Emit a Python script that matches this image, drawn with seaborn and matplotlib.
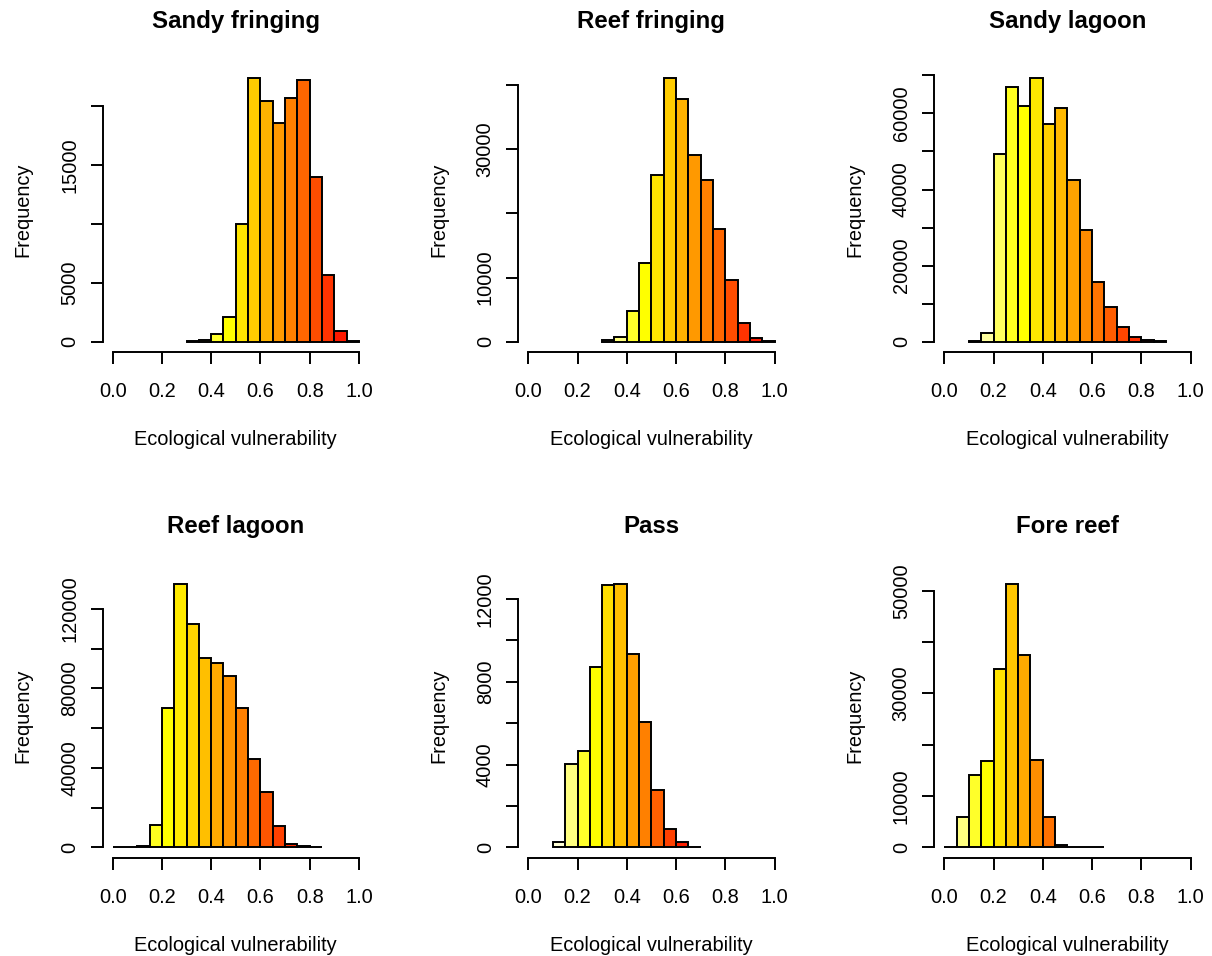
import colorsys

import numpy as np
import pandas as pd
import matplotlib
matplotlib.use("Agg")
import matplotlib.pyplot as plt
import seaborn as sns


# panel titles, bin ranges (left edge of first bin, right edge of last) and counts
titles = ["Sandy fringing", "Reef fringing", "Sandy lagoon",
          "Reef lagoon", "Pass", "Fore reef"]

sandy_fringing_range = (0.30, 1.00)
sandy_fringing = [50, 100, 650, 2090, 9970, 22320, 20420, 18560, 20680, 22180,
                  13980, 5650, 880, 60]

reef_fringing_range = (0.30, 1.00)
reef_fringing = [200, 700, 4780, 12210, 25980, 41040, 37770, 29140, 25200, 17560,
                 9610, 2960, 570, 150]

sandy_lagoon_range = (0.10, 0.90)
sandy_lagoon = [300, 2370, 49230, 66930, 61930, 69200, 57120, 61320, 42490, 29350,
                15590, 9200, 3850, 1230, 440, 150]

reef_lagoon_range = (0.00, 0.85)
reef_lagoon = [340, 300, 670, 11090, 70220, 132550, 112560, 95590, 92740, 86520,
               70220, 44690, 27720, 10750, 1680, 500, 150]

pass_range = (0.10, 0.70)
pass_counts = [260, 4020, 4650, 8730, 12650, 12710, 9320, 6050, 2760, 890, 260, 20]

fore_reef_range = (0.00, 0.65)
fore_reef = [150, 5980, 14170, 16770, 34780, 51290, 37510, 16970, 5920, 520, 100, 80, 60]

ranges = [sandy_fringing_range, reef_fringing_range, sandy_lagoon_range,
          reef_lagoon_range, pass_range, fore_reef_range]
counts_all = [sandy_fringing, reef_fringing, sandy_lagoon,
              reef_lagoon, pass_counts, fore_reef]

# y ticks: step, last tick, and which ticks carry a label
y_steps = [5000, 10000, 10000, 20000, 2000, 10000]
y_tops = [20000, 40000, 70000, 120000, 12000, 50000]
y_labelled = [[0, 5000, 15000], [0, 10000, 30000], [0, 20000, 40000, 60000],
              [0, 40000, 80000, 120000], [0, 4000, 8000, 12000], [0, 10000, 30000, 50000]]

x_ticks = [0.0, 0.2, 0.4, 0.6, 0.8, 1.0]
x_tick_labels = ["0.0", "0.2", "0.4", "0.6", "0.8", "1.0"]


def heat_colors(n):
    # same as R's heat.colors(n)
    j = n // 4
    i = n - j
    cols = [colorsys.hsv_to_rgb(h, 1, 1) for h in np.linspace(0, 1 / 6, i)]
    if j > 0:
        cols += [colorsys.hsv_to_rgb(1 / 6, s, 1)
                 for s in np.linspace(1 - 1 / (2 * j), 1 / (2 * j), j)]
    return cols


sns.set_style("white")
plt.rcParams["font.family"] = ["Liberation Sans", "DejaVu Sans"]
plt.rcParams["text.color"] = "black"
plt.rcParams["axes.labelcolor"] = "black"

W, H = 1212, 956
fig = plt.figure(figsize=(W / 100, H / 100), dpi=100)

col_lefts = [102.8, 518.4, 934.4]
row_tops = [67.9, 573.6]
ax_w, ax_h = 266.0, 284.3
lw = 1.4

for k, (title, rng, counts) in enumerate(zip(titles, ranges, counts_all)):
    r, c = divmod(k, 3)
    ax = fig.add_axes([col_lefts[c] / W, (H - row_tops[r] - ax_h) / H, ax_w / W, ax_h / H])

    n = len(counts)
    edges = [round(v, 3) for v in np.linspace(rng[0], rng[1], n + 1)]
    centers = [(a + b) / 2 for a, b in zip(edges[:-1], edges[1:])]
    df = pd.DataFrame({"value": centers, "count": counts})
    sns.histplot(data=df, x="value", weights="count", bins=edges, ax=ax,
                 stat="count", edgecolor="black", linewidth=lw, alpha=1)
    for patch, col in zip(ax.patches, heat_colors(n)[::-1]):
        patch.set_facecolor(col)

    ymax = max(counts)
    ax.set_xlim(-0.04, 1.04)
    ax.set_ylim(-0.04 * ymax, 1.04 * ymax)

    for side in ["top", "right"]:
        ax.spines[side].set_visible(False)
    for side in ["left", "bottom"]:
        ax.spines[side].set_linewidth(lw)
        ax.spines[side].set_color("black")
    ax.spines["bottom"].set_bounds(0, 1)
    ax.spines["left"].set_bounds(0, y_tops[k])

    ax.set_xticks(x_ticks)
    ax.set_xticklabels(x_tick_labels)
    yt = np.arange(0, y_tops[k] + 1, y_steps[k])
    ax.set_yticks(yt)
    ax.set_yticklabels([str(v) if v in y_labelled[k] else "" for v in yt],
                       rotation=90, va="center")

    ax.tick_params(axis="both", direction="out", length=8.5, width=lw,
                   color="black", labelsize=14.4, labelcolor="black")
    ax.tick_params(axis="x", pad=13, bottom=True)
    ax.tick_params(axis="y", pad=8.5, left=True)

    ax.set_xlabel("Ecological vulnerability", fontsize=14.4, labelpad=21, color="black")
    ax.set_ylabel("Frequency", fontsize=14.4, labelpad=20, color="black")
    ax.set_title(title, fontsize=17.3, fontweight="bold", pad=29, color="black")
    ax.grid(False)

fig.savefig("out.png", dpi=100, facecolor="white")
